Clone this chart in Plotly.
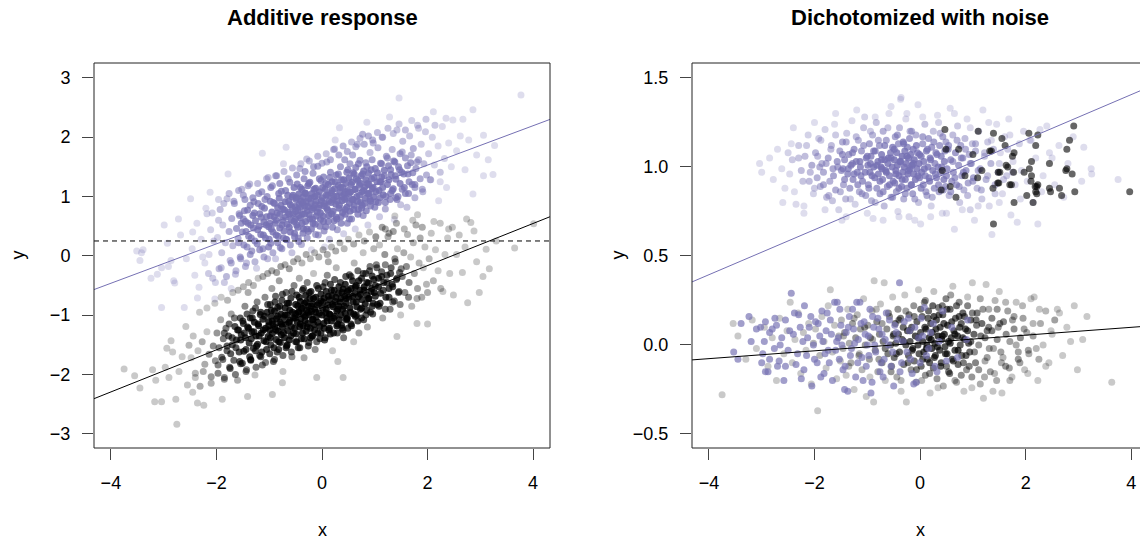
import numpy as np
import plotly.graph_objects as go

# ---------------- data ----------------
# Left panel: additive response, treated (purple) and control (black)
add_treated = [
    (-3.51, 0.08), (-3.39, 0.10), (-3.45, -0.08), (-3.24, -0.38), (-3.04, -0.87), (-3.04, -0.20),
    (-2.91, -0.18), (-2.99, 0.52), (-3.42, 0.05), (-3.12, -0.31),
    (-2.93, 0.21), (-2.81, -0.42), (-2.68, 0.35), (-2.57, -0.05), (-2.72, 0.62), (-2.86, -0.08),
    (-2.61, -0.87), (-2.79, -0.46), (-2.49, 0.96),
    (-2.46, 0.12), (-2.41, -0.33), (-2.37, 0.55), (-2.33, -0.53), (-2.36, -0.71), (-2.29, 0.28),
    (-2.22, -0.12), (-2.18, 0.71), (-2.14, 0.02), (-2.11, 0.44), (-2.07, -0.38), (-2.03, -0.73),
    (-2.12, 1.07), (-2.05, 0.25), (-2.45, 0.40), (-2.26, -0.02),
    (-1.98, 0.31), (-1.95, -0.22), (-1.93, 0.78), (-1.90, 0.05), (-1.88, 0.52), (-1.85, -0.45),
    (-1.83, 0.22), (-1.80, 0.96), (-1.78, 1.38), (-1.76, 0.41), (-1.74, -0.08), (-1.71, 0.63),
    (-1.69, 0.17), (-1.66, 0.88), (-1.64, -0.31), (-1.62, 0.46), (-1.59, 0.29), (-1.57, 0.71),
    (-1.55, -0.02), (-1.53, 0.55), (-1.52, 1.12), (-1.96, 0.60), (-1.72, -0.55),
    (-1.49, 0.62), (-1.48, 0.18), (-1.46, 0.95), (-1.44, 0.41), (-1.43, -0.12), (-1.41, 0.77),
    (-1.39, 0.33), (-1.37, 1.21), (-1.35, 0.52), (-1.33, 0.08), (-1.31, 0.68), (-1.29, 0.91),
    (-1.27, 0.25), (-1.26, 0.59), (-1.24, -0.21), (-1.22, 0.44), (-1.20, 1.05), (-1.18, 0.71),
    (-1.16, 0.36), (-1.14, 0.83), (-1.13, 1.73), (-1.12, 0.12), (-1.10, 0.57), (-1.08, 0.95),
    (-1.07, 0.30), (-1.05, 0.66), (-1.03, -0.05), (-1.02, 1.32), (-1.01, 0.49), (-1.45, 0.58),
    (-0.99, 0.55), (-0.98, 0.92), (-0.97, 0.21), (-0.95, 0.74), (-0.94, 1.18), (-0.93, 0.40),
    (-0.91, 0.66), (-0.90, 0.88), (-0.88, -0.05), (-0.87, 0.60), (-0.86, 1.35), (-0.84, 0.81),
    (-0.83, 0.33), (-0.81, 0.97), (-0.80, 0.70), (-0.79, 0.14), (-0.77, 1.09), (-0.76, 0.52),
    (-0.74, 0.79), (-0.73, 1.55), (-0.72, 0.42), (-0.70, 0.91), (-0.69, 0.65), (-0.68, 1.83),
    (-0.67, 0.27), (-0.65, 1.02), (-0.64, 0.73), (-0.62, 0.48), (-0.61, 1.24), (-0.60, 0.86),
    (-0.58, 0.60), (-0.57, 0.05), (-0.56, 0.99), (-0.55, 0.71), (-0.53, 1.15), (-0.52, 0.38),
    (-0.51, 0.83), (-0.50, 0.62),
    (-0.49, 0.95), (-0.48, 0.52), (-0.47, 1.21), (-0.46, 0.78), (-0.45, 0.30), (-0.44, 1.04),
    (-0.43, 0.87), (-0.42, 1.47), (-0.41, 0.64), (-0.40, 0.93), (-0.39, 0.19), (-0.38, 1.12),
    (-0.37, 0.71), (-0.36, 0.99), (-0.35, 0.45), (-0.34, 1.30), (-0.33, 0.84), (-0.32, 1.06),
    (-0.31, 0.58), (-0.30, 0.91), (-0.29, 1.63), (-0.28, 0.76), (-0.27, 1.18), (-0.26, 0.41),
    (-0.25, 0.97), (-0.24, 0.69), (-0.23, 1.24), (-0.21, 0.88), (-0.20, 0.10), (-0.19, 1.05),
    (-0.18, 0.62), (-0.17, 1.39), (-0.16, 0.81), (-0.14, 1.00), (-0.13, 0.53), (-0.12, 1.14),
    (-0.11, 0.92), (-0.09, 0.74), (-0.08, 1.51), (-0.07, 0.35), (-0.05, 1.08), (-0.04, 0.86),
    (-0.03, 0.61), (-0.02, 1.27),
    (0.01, 0.98), (0.02, 0.67), (0.03, 1.33), (0.04, 0.84), (0.06, 1.12), (0.07, 0.49),
    (0.08, 1.02), (0.09, 1.58), (0.11, 0.77), (0.12, 1.20), (0.13, 0.92), (0.14, 0.28),
    (0.16, 1.41), (0.17, 1.06), (0.18, 0.71), (0.19, 1.25), (0.21, 0.95), (0.22, 1.79),
    (0.23, 0.59), (0.24, 1.13), (0.26, 0.87), (0.27, 1.36), (0.28, 1.01), (0.29, 0.44),
    (0.31, 1.19), (0.32, 0.80), (0.33, 2.16), (0.34, 1.07), (0.35, 1.50), (0.36, 0.66),
    (0.37, 1.28), (0.38, 0.93), (0.39, 1.15), (0.41, 0.37), (0.42, 1.04), (0.43, 1.62),
    (0.44, 0.78), (0.45, 1.22), (0.46, 0.97), (0.47, 1.41), (0.48, 0.55), (0.49, 1.10),
    (0.05, 0.15), (0.25, 1.95),
    (0.51, 1.31), (0.52, 0.88), (0.53, 1.55), (0.54, 1.07), (0.56, 0.62), (0.57, 1.24),
    (0.58, 1.70), (0.59, 0.95), (0.61, 1.38), (0.62, 1.12), (0.63, 0.45), (0.64, 1.49),
    (0.66, 1.00), (0.67, 1.88), (0.68, 1.27), (0.69, 0.78), (0.71, 1.19), (0.72, 1.61),
    (0.73, 0.90), (0.74, 1.35), (0.76, 1.08), (0.77, 2.05), (0.78, 0.68), (0.79, 1.43),
    (0.81, 1.16), (0.82, 0.97), (0.83, 1.57), (0.85, 2.25), (0.86, 1.22), (0.87, 0.52),
    (0.88, 1.39), (0.89, 1.05), (0.91, 1.74), (0.92, 0.84), (0.94, 1.30), (0.95, 1.13),
    (0.97, 1.90), (0.98, 0.99),
    (1.01, 1.47), (1.02, 0.91), (1.04, 1.25), (1.06, 1.82), (1.08, 1.10), (1.09, 0.66),
    (1.11, 1.56), (1.13, 1.33), (1.14, 2.00), (1.16, 1.03), (1.18, 1.44), (1.20, 0.79),
    (1.22, 1.68), (1.24, 1.20), (1.26, 1.52), (1.28, 2.34), (1.29, 0.95), (1.31, 1.37),
    (1.33, 1.79), (1.35, 1.13), (1.37, 0.61), (1.38, 1.58), (1.40, 1.29), (1.42, 2.12),
    (1.44, 1.00), (1.46, 2.66), (1.47, 1.45), (1.48, 1.72), (1.49, 0.86), (1.12, 1.25),
    (1.51, 1.41), (1.53, 1.93), (1.56, 1.15), (1.58, 1.65), (1.61, 0.82), (1.63, 1.38),
    (1.66, 2.02), (1.68, 1.57), (1.71, 1.20), (1.73, 1.81), (1.76, 0.98), (1.78, 1.47),
    (1.81, 2.20), (1.83, 1.62), (1.86, 1.30), (1.88, 1.88), (1.91, 1.08), (1.93, 1.55),
    (1.96, 2.09), (1.98, 1.36),
    (2.02, 1.72), (2.06, 1.28), (2.09, 2.00), (2.11, 2.43), (2.13, 1.53), (2.21, 0.93),
    (2.20, 1.85), (2.24, 1.41), (2.28, 2.18), (2.32, 1.64), (2.36, 1.15), (2.40, 1.90),
    (2.45, 1.50), (2.48, 2.29),
    (2.55, 1.77), (2.62, 2.02), (2.67, 2.30), (2.71, 1.45), (2.78, 1.95), (2.86, 2.46),
    (2.86, 1.04), (2.93, 1.70),
    (3.06, 2.03), (3.06, 1.35), (3.27, 1.86), (3.24, 1.37), (3.15, 1.62), (3.77, 2.71),
]
add_treated_core = [
    (-1.58, 0.22), (-1.56, 0.68), (-1.51, 0.40), (-1.47, 0.76), (-1.42, 0.15), (-1.40, 0.55),
    (-1.36, 0.85), (-1.34, 0.30), (-1.30, 0.47), (-1.28, 0.72), (-1.23, 0.20), (-1.21, 0.88),
    (-1.19, 0.50), (-1.15, 0.65), (-1.11, 0.35), (-1.09, 0.80), (-1.06, 0.52), (-1.04, 1.00),
    (-1.00, 0.28), (-0.98, 0.67), (-0.96, 0.45), (-0.92, 0.90), (-0.89, 0.55), (-0.87, 0.35),
    (-0.85, 0.72), (-0.82, 1.05), (-0.80, 0.47), (-0.78, 0.85), (-0.75, 0.60), (-0.73, 0.30),
    (-0.71, 0.77), (-0.69, 1.10), (-0.66, 0.53), (-0.63, 0.92), (-0.62, 0.70), (-0.60, 0.40),
    (-0.57, 0.82), (-0.55, 1.02), (-0.53, 0.58), (-0.50, 0.75), (-0.48, 0.98), (-0.46, 0.48),
    (-0.44, 0.68), (-0.41, 1.15), (-0.40, 0.82), (-0.38, 0.55), (-0.36, 0.90), (-0.33, 0.70),
    (-0.31, 1.05), (-0.29, 0.45), (-0.27, 0.83), (-0.25, 1.22), (-0.23, 0.62), (-0.21, 0.97),
    (-0.19, 0.78), (-0.17, 0.55), (-0.15, 1.12), (-0.13, 0.86), (-0.11, 0.67), (-0.09, 1.02),
    (-0.07, 0.80), (-0.05, 1.30), (-0.03, 0.72), (-0.01, 0.93), (0.01, 1.15), (0.03, 0.58),
    (0.05, 0.88), (0.07, 1.22), (0.09, 0.80), (0.11, 1.02), (0.13, 0.68), (0.15, 1.32),
    (0.17, 0.90), (0.19, 1.10), (0.21, 0.75), (0.23, 1.00), (0.25, 1.25), (0.27, 0.65),
    (0.29, 0.92), (0.31, 1.38), (0.33, 0.85), (0.35, 1.15), (0.37, 1.00), (0.39, 0.73),
    (0.41, 1.28), (0.43, 0.95), (0.45, 1.08), (0.47, 0.82), (0.49, 1.45), (0.51, 1.05),
    (0.53, 0.75), (0.55, 1.20), (0.57, 0.95), (0.59, 1.40), (0.61, 0.85), (0.63, 1.12),
    (0.65, 1.30), (0.67, 0.92), (0.69, 1.55), (0.71, 1.02), (0.73, 1.22), (0.75, 0.80),
    (0.77, 1.38), (0.79, 1.10), (0.81, 0.88), (0.83, 1.28), (0.85, 1.50), (0.87, 1.05),
    (0.89, 1.20), (0.91, 0.95), (0.93, 1.45), (0.95, 1.62), (0.97, 1.15), (0.99, 1.32),
    (1.02, 1.08), (1.05, 1.40), (1.07, 0.90), (1.10, 1.25), (1.13, 1.55), (1.15, 1.15),
    (1.18, 1.35), (1.21, 1.00), (1.24, 1.65), (1.27, 1.28), (1.30, 1.45), (1.33, 1.10),
    (1.36, 1.60), (1.39, 1.35), (1.42, 0.95), (1.45, 1.50), (1.48, 1.22), (1.52, 1.75),
    (1.55, 1.38), (1.58, 1.05), (1.62, 1.52), (1.65, 1.25), (1.69, 1.70), (1.72, 1.40),
    (1.76, 1.15), (1.80, 1.58),
]
add_treated_mid = [
    (-2.20, 0.80), (-2.15, -0.30), (-2.08, 0.72), (-2.02, -0.45), (-1.96, 0.95), (-1.91, -0.20),
    (-1.86, 0.88), (-1.81, -0.35), (-1.76, 1.05), (-1.72, -0.12), (-1.67, 0.92), (-1.63, -0.25),
    (-1.58, 1.10), (-1.54, -0.05), (-1.49, 1.02), (-1.45, -0.18), (-1.40, 1.18), (-1.36, 0.02),
    (-1.31, 0.98), (-1.27, -0.10), (-1.22, 1.22), (-1.18, 0.10), (-1.14, 1.08), (-1.10, -0.02),
    (-1.05, 1.30), (-1.01, 0.15), (-0.97, 1.15), (-0.93, 0.05), (-0.88, 1.35), (-0.84, 0.22),
    (-0.80, 1.22), (-0.76, 0.12), (-0.72, 1.42), (-0.68, 0.28), (-0.64, 1.30), (-0.60, 0.18),
    (-0.56, 1.48), (-0.52, 0.32), (-0.48, 1.36), (-0.44, 0.24), (-0.40, 1.55), (-0.36, 0.38),
    (-0.32, 1.42), (-0.28, 0.30), (-0.24, 1.60), (-0.20, 0.45), (-0.16, 1.50), (-0.12, 0.36),
    (-0.08, 1.68), (-0.04, 0.50), (0.00, 1.56), (0.04, 0.42), (0.08, 1.72), (0.12, 0.58),
    (0.16, 1.62), (0.20, 0.48), (0.24, 1.80), (0.28, 0.62), (0.32, 1.70), (0.36, 0.55),
    (0.40, 1.85), (0.44, 0.70), (0.48, 1.76), (0.52, 0.62), (0.56, 1.92), (0.60, 0.78),
    (0.64, 1.84), (0.68, 0.70), (0.72, 1.98), (0.76, 0.85), (0.80, 1.88), (0.84, 0.76),
    (0.88, 2.02), (0.92, 0.92), (0.96, 1.95), (1.00, 0.82), (1.05, 2.08), (1.10, 0.98),
    (1.15, 2.00), (1.20, 0.90), (1.25, 2.15), (1.30, 1.05), (1.35, 2.06), (1.40, 0.98),
    (1.46, 2.22), (1.52, 1.12), (1.58, 2.12), (1.64, 1.05), (1.70, 2.28), (1.76, 1.20),
    (1.83, 2.15), (1.90, 1.12), (1.97, 2.30), (2.05, 1.28), (2.14, 2.20), (2.24, 1.25),
    (2.35, 2.32),
]

add_control = [
    (-3.75, -1.91), (-3.55, -2.02), (-3.45, -2.23), (-3.17, -2.46), (-3.04, -2.46), (-3.21, -1.92),
    (-3.15, -2.10), (-2.86, -1.43), (-2.94, -1.56), (-2.58, -1.19), (-2.77, -2.42), (-2.75, -2.84),
    (-2.36, -2.48), (-2.24, -2.52), (-1.89, -2.42), (-1.41, -2.37), (-0.94, -2.34), (-0.75, -2.14),
    (-0.10, -2.05), (0.40, -2.05), (1.42, -1.36), (2.00, -1.15), (1.80, -1.14), (2.76, -0.79),
    (2.98, -0.62), (3.17, -0.22), (3.65, 0.13), (4.01, 0.54), (2.74, 0.62), (2.82, 0.56),
    (1.81, 0.69), (1.38, 0.67), (3.11, 0.11), (2.49, -0.66),
    (-2.97, -1.88), (-2.90, -2.05), (-2.83, -1.62), (-2.71, -1.95), (-2.65, -1.70), (-2.55, -2.18),
    (-2.52, -1.51),
    (-2.48, -1.72), (-2.44, -1.35), (-2.40, -1.98), (-2.35, -1.60), (-2.31, -2.20), (-2.27, -1.45),
    (-2.22, -1.83), (-2.18, -1.28), (-2.14, -1.66), (-2.10, -2.04), (-2.06, -1.52), (-2.02, -1.77),
    (-2.45, -2.30),
    (-1.99, -1.30), (-1.97, -1.84), (-1.95, -1.55), (-1.92, -1.08), (-1.90, -1.71), (-1.87, -1.40),
    (-1.85, -2.05), (-1.82, -1.22), (-1.80, -1.60), (-1.77, -1.35), (-1.75, -1.88), (-1.72, -0.98),
    (-1.70, -1.50), (-1.67, -1.76), (-1.65, -1.19), (-1.62, -1.42), (-1.60, -2.10), (-1.57, -1.62),
    (-1.55, -1.05), (-1.53, -1.33), (-1.51, -1.81), (-1.58, -1.25),
    (-1.49, -1.14), (-1.48, -1.61), (-1.46, -0.85), (-1.45, -1.38), (-1.43, -1.92), (-1.41, -1.20),
    (-1.40, -0.62), (-1.38, -1.47), (-1.36, -1.05), (-1.35, -1.75), (-1.33, -1.28), (-1.31, -0.93),
    (-1.30, -1.56), (-1.28, -1.12), (-1.27, -2.01), (-1.25, -1.35), (-1.23, -0.78), (-1.22, -1.49),
    (-1.20, -1.18), (-1.18, -1.68), (-1.17, -0.99), (-1.15, -1.30), (-1.13, -1.84), (-1.12, -1.07),
    (-1.10, -1.43), (-1.08, -0.70), (-1.07, -1.22), (-1.05, -1.58), (-1.04, -0.95), (-1.02, -1.36),
    (-1.01, -1.11), (-1.26, -1.60),
    (-0.99, -1.25), (-0.98, -0.82), (-0.97, -1.50), (-0.96, -1.02), (-0.95, -0.55), (-0.94, -1.31),
    (-0.93, -1.15), (-0.92, -1.78), (-0.90, -0.93), (-0.89, -1.20), (-0.88, -0.68), (-0.87, -1.41),
    (-0.86, -1.06), (-0.85, -1.62), (-0.84, -0.87), (-0.83, -1.27), (-0.81, -0.42), (-0.80, -1.12),
    (-0.79, -1.46), (-0.78, -0.98), (-0.77, -1.33), (-0.76, -0.75), (-0.75, -1.20), (-0.74, -1.95),
    (-0.73, -1.04), (-0.71, -1.38), (-0.70, -0.88), (-0.69, -1.15), (-0.68, -0.62), (-0.67, -1.52),
    (-0.66, -1.00), (-0.65, -1.26), (-0.63, -0.80), (-0.62, -1.42), (-0.61, -1.09), (-0.59, -0.71),
    (-0.58, -1.19), (-0.57, -1.70), (-0.56, -0.95), (-0.54, -1.30), (-0.53, -0.50), (-0.51, -1.05),
    (-0.50, -0.98), (-0.49, -1.32), (-0.48, -0.66), (-0.47, -1.12), (-0.46, -0.84), (-0.45, -1.55),
    (-0.44, -0.95), (-0.43, -0.38), (-0.42, -1.20), (-0.41, -0.77), (-0.40, -1.06), (-0.39, -1.40),
    (-0.38, -0.89), (-0.37, -0.58), (-0.36, -1.18), (-0.35, -0.99), (-0.34, -1.72), (-0.33, -0.80),
    (-0.32, -1.09), (-0.31, -0.67), (-0.30, -1.27), (-0.29, -0.92), (-0.28, -0.45), (-0.27, -1.14),
    (-0.26, -0.85), (-0.25, -1.46), (-0.24, -1.00), (-0.23, -0.72), (-0.22, -1.22), (-0.21, -0.60),
    (-0.20, -0.94), (-0.19, -1.35), (-0.18, -0.81), (-0.17, -1.07), (-0.16, -0.30), (-0.15, -1.16),
    (-0.14, -0.90), (-0.13, -1.58), (-0.12, -0.70), (-0.11, -1.03), (-0.09, -0.83), (-0.08, -1.30),
    (-0.07, -0.55), (-0.05, -0.97), (-0.04, -1.19), (-0.02, -0.76),
    (0.01, -0.88), (0.02, -0.52), (0.03, -1.14), (0.04, -0.71), (0.05, -1.42), (0.07, -0.96),
    (0.08, -0.60), (0.09, -1.05), (0.10, -0.33), (0.11, -0.83), (0.13, -1.25), (0.14, -0.74),
    (0.15, -0.99), (0.16, -0.48), (0.18, -1.10), (0.19, -0.67), (0.20, -1.60), (0.21, -0.86),
    (0.23, -0.58), (0.24, -1.02), (0.25, -0.77), (0.27, -0.20), (0.28, -0.93), (0.29, -1.30),
    (0.31, -0.63), (0.32, -0.85), (0.33, -1.08), (0.35, -0.45), (0.36, -0.72), (0.37, -1.17),
    (0.39, -0.90), (0.40, -0.56), (0.41, -1.38), (0.43, -0.68), (0.44, -0.97), (0.45, -0.35),
    (0.46, -0.80), (0.47, -1.06), (0.48, -0.60), (0.49, -1.22), (0.12, -0.10), (0.30, -1.78),
    (0.51, -0.70), (0.52, -0.32), (0.54, -0.95), (0.55, -0.55), (0.56, -1.18), (0.58, -0.42),
    (0.59, -0.78), (0.61, -0.12), (0.62, -0.63), (0.63, -1.02), (0.65, -0.50), (0.66, -0.86),
    (0.68, -0.25), (0.69, -0.69), (0.70, -1.30), (0.72, -0.58), (0.73, -0.90), (0.75, -0.38),
    (0.76, -0.74), (0.78, 0.05), (0.79, -1.08), (0.80, -0.52), (0.82, -0.81), (0.83, -0.30),
    (0.85, -0.66), (0.86, -1.20), (0.88, -0.46), (0.89, -0.72), (0.91, -0.18), (0.92, -0.95),
    (0.94, -0.55), (0.95, -0.34), (0.97, -0.80), (0.98, 0.12), (0.99, -0.62), (0.60, -1.45),
    (1.01, -0.50), (1.03, -0.15), (1.05, -0.82), (1.07, -0.38), (1.09, 0.18), (1.11, -0.63),
    (1.13, -0.27), (1.15, -1.05), (1.17, -0.45), (1.19, 0.02), (1.21, -0.70), (1.23, -0.33),
    (1.25, 0.32), (1.27, -0.55), (1.29, -0.90), (1.31, -0.20), (1.33, -0.48), (1.35, 0.41),
    (1.37, -0.76), (1.39, -0.10), (1.41, -0.40), (1.43, 0.12), (1.45, -0.62), (1.47, -0.28),
    (1.49, -1.00), (1.20, 0.45),
    (1.52, -0.35), (1.55, 0.05), (1.57, -0.62), (1.60, -0.18), (1.62, 0.36), (1.65, -0.45),
    (1.68, -0.02), (1.70, -0.85), (1.73, 0.22), (1.75, -0.30), (1.78, 0.52), (1.81, -0.55),
    (1.84, -0.12), (1.86, 0.30), (1.89, -0.70), (1.92, -0.20), (1.95, 0.15), (1.98, -0.48),
    (2.03, -0.05), (2.07, 0.38), (2.11, -0.42), (2.15, 0.10), (2.20, -0.25), (2.24, 0.55),
    (2.29, -0.60), (2.33, 0.02), (2.38, 0.30), (2.42, -0.30), (2.47, 0.48),
    (2.55, 0.02), (2.60, 0.35), (2.66, -0.28), (2.71, 0.15), (2.88, 0.42), (2.93, -0.10),
    (3.30, 0.25), (3.05, -0.35),
]
add_control_core = [
    (-1.88, -1.75), (-1.85, -1.30), (-1.80, -1.52), (-1.76, -1.15), (-1.73, -1.65), (-1.70, -1.38),
    (-1.66, -1.05), (-1.63, -1.55), (-1.60, -1.25), (-1.56, -1.78), (-1.54, -1.42), (-1.50, -1.10),
    (-1.47, -1.30), (-1.44, -1.58), (-1.42, -0.98), (-1.39, -1.22), (-1.37, -1.70), (-1.34, -1.40),
    (-1.32, -1.05), (-1.29, -1.28), (-1.26, -0.88), (-1.24, -1.52), (-1.21, -1.15), (-1.19, -1.35),
    (-1.16, -0.95), (-1.14, -1.62), (-1.11, -1.25), (-1.09, -1.02), (-1.06, -1.45), (-1.03, -0.82),
    (-1.01, -1.18), (-0.98, -1.38), (-0.96, -0.92), (-0.94, -1.10), (-0.91, -1.55), (-0.89, -0.78),
    (-0.87, -1.25), (-0.84, -1.02), (-0.82, -1.45), (-0.80, -0.85), (-0.77, -1.15), (-0.75, -0.65),
    (-0.73, -1.30), (-0.70, -1.00), (-0.68, -1.55), (-0.66, -0.80), (-0.63, -1.12), (-0.61, -0.92),
    (-0.59, -1.35), (-0.57, -0.60), (-0.54, -1.05), (-0.52, -1.22), (-0.50, -0.82), (-0.48, -1.45),
    (-0.45, -0.95), (-0.43, -0.70), (-0.41, -1.15), (-0.39, -0.88), (-0.37, -1.30), (-0.35, -0.55),
    (-0.32, -1.02), (-0.30, -0.78), (-0.28, -1.20), (-0.26, -0.95), (-0.24, -0.62), (-0.22, -1.38),
    (-0.20, -0.85), (-0.18, -1.08), (-0.16, -0.72), (-0.14, -1.25), (-0.12, -0.95), (-0.10, -0.50),
    (-0.08, -1.12), (-0.06, -0.80), (-0.04, -1.40), (-0.02, -0.65), (0.00, -1.00), (0.02, -0.78),
    (0.04, -1.22), (0.06, -0.45), (0.08, -0.90), (0.10, -1.10), (0.12, -0.68), (0.14, -0.98),
    (0.16, -1.32), (0.18, -0.58), (0.20, -0.82), (0.22, -1.05), (0.24, -0.40), (0.26, -0.70),
    (0.28, -1.18), (0.30, -0.90), (0.32, -0.52), (0.34, -0.78), (0.36, -1.00), (0.38, -0.62),
    (0.40, -1.25), (0.42, -0.85), (0.44, -0.48), (0.46, -0.72), (0.48, -1.05), (0.50, -0.58),
    (0.53, -0.88), (0.55, -0.35), (0.58, -0.68), (0.60, -0.98), (0.63, -0.52), (0.65, -0.78),
    (0.68, -1.10), (0.70, -0.42), (0.73, -0.65), (0.75, -0.88), (0.78, -0.30), (0.80, -0.58),
    (0.83, -1.00), (0.85, -0.45), (0.88, -0.72), (0.90, -0.25), (0.93, -0.60), (0.95, -0.85),
    (0.98, -0.40), (1.01, -0.68), (1.04, -0.20), (1.07, -0.52), (1.10, -0.80), (1.13, -0.35),
    (1.16, -0.58), (1.20, -0.15), (1.23, -0.45), (1.27, -0.70), (1.30, -0.30), (1.34, -0.52),
    (1.38, -0.05), (1.42, -0.38), (1.46, -0.60), (1.50, -0.22),
]
add_control_mid = [
    (-2.40, -2.05), (-2.32, -0.95), (-2.25, -1.95), (-2.18, -0.88), (-2.10, -2.15), (-2.03, -0.80),
    (-1.97, -1.98), (-1.91, -0.70), (-1.85, -2.08), (-1.79, -0.75), (-1.74, -1.90), (-1.69, -0.62),
    (-1.64, -2.00), (-1.59, -0.58), (-1.54, -1.82), (-1.49, -0.52), (-1.44, -1.95), (-1.39, -0.45),
    (-1.35, -1.76), (-1.30, -0.50), (-1.25, -1.88), (-1.21, -0.38), (-1.16, -1.70), (-1.12, -0.35),
    (-1.07, -1.80), (-1.03, -0.30), (-0.99, -1.65), (-0.95, -0.25), (-0.90, -1.75), (-0.86, -0.28),
    (-0.82, -1.58), (-0.78, -0.18), (-0.74, -1.68), (-0.70, -0.15), (-0.66, -1.50), (-0.62, -0.22),
    (-0.58, -1.62), (-0.54, -0.10), (-0.50, -1.45), (-0.46, -0.05), (-0.42, -1.55), (-0.38, -0.12),
    (-0.34, -1.40), (-0.30, 0.02), (-0.26, -1.52), (-0.22, -0.05), (-0.18, -1.35), (-0.14, 0.05),
    (-0.10, -1.45), (-0.06, -0.02), (-0.02, -1.30), (0.02, 0.10), (0.06, -1.38), (0.10, 0.02),
    (0.14, -1.22), (0.18, 0.15), (0.22, -1.30), (0.26, 0.08), (0.30, -1.15), (0.34, 0.22),
    (0.38, -1.22), (0.42, 0.12), (0.46, -1.08), (0.50, 0.28), (0.55, -1.15), (0.60, 0.20),
    (0.65, -1.00), (0.70, 0.35), (0.75, -1.05), (0.80, 0.25), (0.85, -0.92), (0.90, 0.40),
    (0.96, -0.98), (1.02, 0.32), (1.08, -0.85), (1.14, 0.48), (1.20, -0.90), (1.27, 0.38),
    (1.34, -0.78), (1.41, 0.55), (1.48, -0.82), (1.56, 0.45), (1.64, -0.70), (1.72, 0.60),
    (1.80, -0.72), (1.90, 0.48), (2.00, -0.62), (2.12, 0.58), (2.25, -0.55), (2.40, 0.45),
]

# Right panel: dichotomized with noise
dich_treated_high = [
    (-3.04, 1.02), (-3.00, 0.97), (-2.85, 1.05), (-2.78, 0.93), (-2.70, 1.10), (-2.62, 0.99),
    (-2.56, 0.88), (-2.50, 1.08),
    (-2.47, 0.96), (-2.42, 1.04), (-2.38, 0.86), (-2.35, 0.79), (-2.30, 1.12), (-2.25, 0.98),
    (-2.20, 0.78), (-2.18, 1.06), (-2.12, 1.18), (-2.10, 0.92), (-2.05, 1.01), (-2.02, 0.85),
    (-2.44, 1.13),
    (-1.98, 1.08), (-1.95, 0.94), (-1.92, 1.16), (-1.89, 0.89), (-1.86, 1.02), (-1.83, 0.97),
    (-1.80, 1.21), (-1.77, 0.83), (-1.74, 1.05), (-1.71, 0.92), (-1.68, 1.12), (-1.65, 0.99),
    (-1.62, 1.24), (-1.60, 0.87), (-1.57, 1.03), (-1.54, 0.76), (-1.52, 1.09), (-1.48, 0.70),
    (-1.90, 1.00), (-1.66, 0.81),
    (-1.49, 0.98), (-1.47, 1.14), (-1.45, 0.90), (-1.43, 1.04), (-1.41, 0.82), (-1.39, 1.19),
    (-1.37, 0.96), (-1.35, 1.07), (-1.33, 0.88), (-1.31, 1.01), (-1.29, 1.26), (-1.27, 0.93),
    (-1.25, 1.10), (-1.23, 0.79), (-1.21, 1.03), (-1.19, 0.97), (-1.17, 1.15), (-1.15, 0.86),
    (-1.13, 1.00), (-1.11, 1.09), (-1.09, 0.92), (-1.07, 1.22), (-1.05, 1.28), (-1.03, 0.84),
    (-1.02, 1.05), (-1.46, 0.99), (-1.28, 1.02), (-1.12, 0.95),
    (-0.99, 1.01), (-0.98, 0.90), (-0.96, 1.13), (-0.95, 0.97), (-0.93, 1.06), (-0.92, 0.81),
    (-0.90, 1.18), (-0.89, 0.71), (-0.88, 1.00), (-0.86, 0.94), (-0.85, 1.09), (-0.83, 1.25),
    (-0.82, 0.88), (-0.80, 1.03), (-0.79, 0.96), (-0.77, 1.12), (-0.76, 0.85), (-0.74, 1.00),
    (-0.73, 1.07), (-0.71, 0.93), (-0.70, 1.20), (-0.68, 0.78), (-0.67, 1.04), (-0.65, 0.98),
    (-0.64, 1.15), (-0.62, 0.89), (-0.61, 1.02), (-0.59, 1.30), (-0.58, 0.95), (-0.56, 1.08),
    (-0.55, 0.83), (-0.53, 1.00), (-0.52, 1.11), (-0.51, 0.92), (-0.94, 1.02), (-0.72, 0.99),
    (-0.60, 1.05),
    (-0.49, 1.04), (-0.48, 0.91), (-0.47, 1.17), (-0.46, 0.98), (-0.45, 0.86), (-0.44, 1.08),
    (-0.43, 1.01), (-0.42, 0.75), (-0.41, 1.13), (-0.40, 0.95), (-0.39, 1.22), (-0.38, 1.03),
    (-0.37, 1.38), (-0.36, 1.39), (-0.35, 0.89), (-0.34, 1.06), (-0.33, 0.97), (-0.32, 1.14),
    (-0.31, 0.82), (-0.30, 1.00), (-0.29, 1.09), (-0.28, 0.93), (-0.27, 1.27), (-0.26, 1.02),
    (-0.25, 0.88), (-0.24, 1.11), (-0.23, 0.96), (-0.22, 1.05), (-0.21, 0.72), (-0.20, 1.16),
    (-0.19, 0.99), (-0.18, 1.07), (-0.17, 0.90), (-0.16, 1.20), (-0.15, 1.01), (-0.14, 0.85),
    (-0.13, 1.10), (-0.12, 0.96), (-0.11, 1.04), (-0.09, 0.93), (-0.08, 1.18), (-0.06, 0.99),
    (-0.05, 1.08), (-0.04, 1.35), (-0.03, 0.80), (-0.02, 1.02), (-0.01, 0.94),
    (0.01, 0.68), (0.02, 1.06), (0.03, 0.97), (0.05, 1.13), (0.06, 0.90), (0.07, 1.03),
    (0.09, 1.24), (0.10, 0.95), (0.12, 1.09), (0.13, 0.84), (0.15, 1.00), (0.16, 1.16),
    (0.18, 0.92), (0.19, 1.05), (0.21, 0.78), (0.22, 1.11), (0.24, 0.98), (0.25, 1.20),
    (0.27, 0.88), (0.28, 1.02), (0.30, 1.08), (0.31, 0.94), (0.33, 1.29), (0.34, 1.00),
    (0.36, 0.86), (0.37, 1.12), (0.39, 0.97), (0.40, 1.06), (0.42, 0.74), (0.43, 1.17),
    (0.45, 0.93), (0.46, 1.03), (0.48, 0.89), (0.49, 1.14),
    (0.51, 0.99), (0.53, 1.10), (0.55, 0.84), (0.57, 1.33), (0.58, 1.04), (0.60, 0.92),
    (0.62, 1.18), (0.63, 0.97), (0.65, 0.65), (0.67, 1.08), (0.69, 0.90), (0.71, 1.23),
    (0.73, 1.01), (0.75, 0.80), (0.77, 1.12), (0.79, 0.95), (0.81, 1.05), (0.83, 0.87),
    (0.85, 1.16), (0.87, 0.98), (0.89, 1.27), (0.91, 0.91), (0.93, 1.07), (0.95, 0.76),
    (0.97, 1.02), (0.99, 1.13),
    (1.01, 0.94), (1.03, 0.70), (1.05, 1.09), (1.08, 0.88), (1.11, 1.20), (1.14, 0.99),
    (1.17, 0.82), (1.19, 1.32), (1.22, 1.06), (1.25, 0.93), (1.28, 1.14), (1.31, 0.78),
    (1.34, 1.02), (1.36, 0.62), (1.39, 1.10), (1.42, 0.90), (1.45, 1.24), (1.48, 0.97),
    (1.52, 1.08), (1.56, 0.85), (1.60, 1.17), (1.64, 0.95), (1.68, 1.27), (1.72, 0.73),
    (1.76, 1.03), (1.80, 0.90), (1.84, 0.69), (1.88, 1.13), (1.92, 0.98), (1.96, 1.20),
    (2.03, 0.92), (2.08, 1.15), (2.14, 0.80), (2.19, 1.05), (2.23, 0.68), (2.27, 1.21),
    (2.33, 0.95), (2.40, 1.23), (2.45, 1.08),
    (2.55, 0.90), (2.63, 1.12), (2.72, 0.83), (2.80, 1.02), (2.90, 1.17),
    (3.06, 0.92), (3.10, 1.11), (3.24, 0.99), (3.25, 0.96), (3.75, 0.93),
]
dich_treated_high_core = [
    (-2.30, 1.05), (-2.22, 0.92), (-2.15, 1.12), (-2.08, 0.97), (-2.00, 0.88), (-1.94, 1.06),
    (-1.88, 1.15), (-1.83, 0.90), (-1.78, 1.02), (-1.73, 0.84), (-1.69, 1.10), (-1.64, 0.95),
    (-1.60, 1.18), (-1.56, 1.00), (-1.51, 0.86), (-1.47, 1.07), (-1.43, 0.93), (-1.40, 1.14),
    (-1.36, 0.99), (-1.32, 0.82), (-1.28, 1.08), (-1.25, 0.96), (-1.21, 1.17), (-1.18, 0.90),
    (-1.14, 1.03), (-1.10, 0.85), (-1.07, 1.12), (-1.04, 0.97), (-1.00, 1.06), (-0.97, 0.88),
    (-0.94, 1.20), (-0.91, 0.95), (-0.88, 1.09), (-0.85, 0.80), (-0.82, 1.01), (-0.79, 1.15),
    (-0.76, 0.92), (-0.73, 1.04), (-0.70, 0.86), (-0.67, 1.12), (-0.64, 0.97), (-0.61, 1.22),
    (-0.58, 0.90), (-0.55, 1.05), (-0.52, 0.83), (-0.49, 1.10), (-0.46, 0.96), (-0.43, 1.18),
    (-0.40, 0.88), (-0.37, 1.03), (-0.34, 0.93), (-0.31, 1.13), (-0.28, 0.85), (-0.25, 1.06),
    (-0.22, 0.98), (-0.19, 1.20), (-0.16, 0.90), (-0.13, 1.02), (-0.10, 0.82), (-0.07, 1.12),
    (-0.04, 0.95), (-0.01, 1.07), (0.02, 0.88), (0.05, 1.17), (0.08, 0.99), (0.11, 0.86),
    (0.14, 1.10), (0.17, 0.94), (0.20, 1.04), (0.23, 0.83), (0.26, 1.14), (0.29, 0.96),
    (0.32, 1.07), (0.35, 0.90), (0.38, 1.19), (0.41, 1.00), (0.44, 0.87), (0.47, 1.09),
    (0.50, 0.95), (0.54, 1.12), (0.58, 0.86), (0.62, 1.03), (0.66, 0.94), (0.70, 1.15),
    (0.74, 0.89), (0.78, 1.05), (0.82, 0.97), (0.86, 1.10), (0.90, 0.84), (0.95, 1.02),
    (1.00, 0.92), (1.05, 1.13), (1.10, 0.98), (1.16, 0.87), (1.22, 1.08), (1.28, 0.95),
    (1.35, 1.15), (1.42, 0.85), (1.50, 1.02), (1.58, 0.93), (1.66, 1.10), (1.75, 0.97),
    (-2.60, 0.80), (-2.40, 1.22), (-2.20, 0.74), (-2.00, 1.25), (-1.80, 0.76), (-1.60, 1.30),
    (-1.40, 0.72), (-1.20, 1.32), (-1.00, 0.74), (-0.85, 1.28), (-0.70, 0.70), (-0.55, 1.34),
    (-0.40, 0.72), (-0.25, 1.30), (-0.10, 0.70), (0.05, 1.28), (0.20, 0.72), (0.35, 1.25),
    (0.50, 0.74), (0.65, 1.30), (0.80, 0.76), (0.95, 1.22), (1.10, 0.78), (1.30, 1.25),
    (1.50, 0.80), (1.70, 1.18), (1.90, 0.82), (2.10, 1.15), (2.30, 0.86), (2.50, 1.05),
]

dich_control_high = [
    (0.47, 1.21), (1.10, 1.20), (1.39, 1.19), (2.06, 1.19), (2.23, 1.18), (2.91, 1.23),
    (1.55, 1.16), (1.61, 1.12), (0.49, 1.10), (0.73, 1.10), (1.00, 1.07), (1.32, 1.09),
    (1.35, 1.09), (2.19, 1.12), (2.83, 1.15), (2.78, 1.10), (1.78, 1.08), (1.75, 1.06),
    (2.11, 1.03), (2.45, 1.02), (1.63, 1.01), (1.66, 1.00), (2.07, 0.99), (0.42, 0.98),
    (1.17, 0.98), (1.48, 0.97), (1.51, 0.97), (1.77, 0.97), (1.97, 0.97), (2.11, 0.95),
    (2.76, 0.98), (2.78, 0.99), (2.88, 0.96), (0.85, 0.95), (1.09, 0.94), (2.10, 0.92),
    (1.47, 0.91), (1.49, 0.91), (1.70, 0.90), (1.73, 0.90), (0.57, 0.89), (1.38, 0.88),
    (2.18, 0.89), (2.21, 0.89), (2.23, 0.90), (2.45, 0.88), (2.64, 0.88), (2.93, 0.86),
    (2.68, 0.84), (2.19, 0.86), (2.21, 0.85), (2.47, 0.86), (2.02, 0.84), (0.40, 0.87),
    (0.68, 0.83), (1.78, 0.80), (2.14, 0.80), (1.39, 0.68), (3.97, 0.86),
]

dich_control_low = [
    (-3.75, -0.28), (-3.54, 0.12), (-3.45, 0.05), (-3.30, -0.08), (-3.18, 0.14), (-3.10, -0.02),
    (-2.95, 0.10), (-2.88, -0.12), (-2.80, 0.04), (-2.72, -0.20), (-2.66, 0.15), (-2.58, -0.05),
    (-2.52, 0.08),
    (-2.46, 0.24), (-2.42, -0.10), (-2.37, 0.03), (-2.31, 0.18), (-2.26, -0.16), (-2.21, 0.07),
    (-2.16, -0.03), (-2.11, 0.12), (-2.06, -0.22), (-2.02, 0.01),
    (-1.98, 0.09), (-1.94, -0.37), (-1.90, -0.06), (-1.86, 0.16), (-1.82, 0.02), (-1.78, -0.13),
    (-1.74, 0.22), (-1.70, 0.31), (-1.66, -0.04), (-1.62, 0.11), (-1.58, -0.19), (-1.54, 0.05),
    (-1.51, -0.09),
    (-1.49, 0.14), (-1.46, -0.02), (-1.43, 0.07), (-1.40, -0.17), (-1.37, 0.20), (-1.34, 0.01),
    (-1.31, -0.10), (-1.28, 0.12), (-1.25, -0.25), (-1.22, 0.04), (-1.19, 0.17), (-1.16, -0.06),
    (-1.13, 0.09), (-1.10, -0.14), (-1.07, 0.26), (-1.04, 0.00), (-1.02, -0.29),
    (-0.99, 0.11), (-0.96, -0.08), (-0.94, 0.04), (-0.91, 0.19), (-0.88, -0.32), (-0.87, 0.36),
    (-0.85, -0.03), (-0.82, 0.13), (-0.80, -0.15), (-0.77, 0.06), (-0.75, 0.23), (-0.72, -0.10),
    (-0.70, 0.02), (-0.68, 0.35), (-0.66, -0.20), (-0.63, 0.09), (-0.61, -0.05), (-0.58, 0.16),
    (-0.56, 0.00), (-0.54, -0.12), (-0.52, 0.27), (-0.51, 0.05),
    (-0.49, -0.07), (-0.47, 0.12), (-0.46, 0.01), (-0.44, -0.18), (-0.42, 0.20), (-0.41, 0.06),
    (-0.39, -0.04), (-0.37, 0.15), (-0.36, -0.26), (-0.34, 0.03), (-0.32, 0.10), (-0.31, -0.11),
    (-0.29, 0.28), (-0.27, 0.00), (-0.26, -0.32), (-0.24, 0.08), (-0.22, -0.06), (-0.21, 0.17),
    (-0.19, 0.02), (-0.17, -0.14), (-0.16, 0.10), (-0.14, -0.02), (-0.12, 0.22), (-0.11, -0.09),
    (-0.09, 0.05), (-0.08, -0.21), (-0.06, 0.13), (-0.04, 0.00), (-0.03, 0.31), (-0.02, -0.05),
    (0.01, 0.07), (0.02, -0.12), (0.04, 0.16), (0.05, 0.02), (0.07, -0.04), (0.08, 0.24),
    (0.10, -0.17), (0.11, 0.09), (0.13, 0.00), (0.14, -0.08), (0.16, 0.19), (0.17, 0.04),
    (0.19, -0.27), (0.20, 0.12), (0.22, -0.02), (0.23, 0.07), (0.25, -0.13), (0.26, 0.30),
    (0.28, 0.01), (0.29, -0.06), (0.31, 0.14), (0.32, -0.19), (0.34, 0.05), (0.35, 0.21),
    (0.37, -0.03), (0.38, 0.10), (0.40, -0.10), (0.41, 0.03), (0.43, 0.17), (0.44, -0.23),
    (0.46, 0.06), (0.47, -0.01), (0.49, 0.26),
    (0.51, -0.05), (0.52, 0.11), (0.54, 0.02), (0.56, -0.16), (0.57, 0.20), (0.59, 0.04),
    (0.61, -0.08), (0.62, 0.33), (0.64, 0.08), (0.66, -0.03), (0.67, 0.15), (0.69, -0.21),
    (0.71, 0.05), (0.72, -0.11), (0.74, 0.24), (0.76, 0.00), (0.78, 0.12), (0.79, -0.06),
    (0.81, 0.18), (0.83, -0.26), (0.84, 0.03), (0.86, 0.09), (0.88, -0.14), (0.90, 0.27),
    (0.92, 0.01), (0.94, -0.04), (0.96, 0.14), (0.98, -0.18), (0.99, 0.35),
    (1.02, 0.06), (1.05, -0.10), (1.08, 0.18), (1.11, 0.00), (1.14, -0.22), (1.17, 0.12),
    (1.20, -0.30), (1.23, 0.04), (1.25, 0.34), (1.27, -0.07), (1.30, 0.20), (1.33, -0.15),
    (1.36, 0.08), (1.39, -0.02), (1.42, 0.25), (1.45, -0.20), (1.48, 0.10),
    (1.50, 0.30), (1.53, -0.04), (1.55, -0.27), (1.58, 0.13), (1.62, -0.12), (1.66, 0.19),
    (1.70, 0.02), (1.74, -0.18), (1.78, 0.09), (1.82, 0.24), (1.86, -0.08), (1.90, 0.04),
    (1.95, 0.15), (1.98, -0.14),
    (2.02, 0.07), (2.06, -0.05), (2.10, 0.26), (2.16, 0.27), (2.20, -0.02), (2.23, -0.20),
    (2.28, 0.12), (2.33, 0.00), (2.38, 0.19), (2.44, -0.10), (2.48, 0.08),
    (2.55, 0.14), (2.60, 0.20), (2.64, 0.18), (2.70, -0.06), (2.78, 0.10), (2.85, 0.02),
    (2.92, 0.22), (2.98, -0.14), (3.08, 0.03), (3.16, 0.16), (3.63, -0.21),
]
dich_control_low_core = [
    (-1.45, 0.05), (-1.35, -0.12), (-1.25, 0.15), (-1.15, -0.05), (-1.05, 0.10), (-0.95, -0.18),
    (-0.90, 0.03), (-0.83, 0.20), (-0.78, -0.08), (-0.72, 0.12), (-0.66, -0.02), (-0.60, 0.18),
    (-0.55, -0.15), (-0.50, 0.06), (-0.45, -0.05), (-0.40, 0.14), (-0.36, -0.20), (-0.31, 0.02),
    (-0.27, 0.19), (-0.23, -0.10), (-0.19, 0.08), (-0.15, -0.03), (-0.11, 0.16), (-0.07, -0.14),
    (-0.03, 0.04), (0.01, 0.20), (0.05, -0.08), (0.09, 0.10), (0.12, -0.02), (0.15, 0.15),
    (0.18, -0.16), (0.21, 0.03), (0.24, 0.22), (0.27, -0.07), (0.30, 0.09), (0.33, -0.01),
    (0.36, 0.17), (0.39, -0.12), (0.42, 0.05), (0.45, 0.12), (0.48, -0.05), (0.51, 0.20),
    (0.54, -0.15), (0.57, 0.01), (0.60, 0.13), (0.63, -0.09), (0.66, 0.06), (0.69, 0.22),
    (0.72, -0.03), (0.75, 0.10), (0.78, -0.17), (0.81, 0.04), (0.84, 0.16), (0.87, -0.06),
    (0.90, 0.08), (0.93, -0.12), (0.96, 0.02), (0.99, 0.18), (1.03, -0.04), (1.07, 0.11),
    (1.11, -0.14), (1.15, 0.05), (1.19, 0.20), (1.23, -0.09), (1.27, 0.08), (1.31, -0.02),
    (1.36, 0.15), (1.41, -0.16), (1.46, 0.03), (1.51, 0.12), (1.57, -0.07), (1.63, 0.06),
    (1.69, -0.13), (1.75, 0.14), (1.82, 0.00), (1.89, -0.10), (1.97, 0.09), (2.05, -0.03),
    (2.14, 0.12), (2.25, -0.08),
    (0.03, -0.20), (0.10, 0.25), (0.18, -0.10), (0.26, 0.16), (0.34, -0.24), (0.42, 0.22),
    (0.50, -0.12), (0.58, 0.28), (0.66, -0.20), (0.74, 0.16), (0.82, -0.10), (0.90, 0.22),
    (0.98, -0.24), (1.06, 0.14), (1.14, 0.26), (1.22, -0.18), (1.30, 0.10), (1.38, -0.26),
    (1.46, 0.20), (1.54, -0.10), (1.62, 0.24), (1.70, -0.20), (1.78, 0.16), (1.86, -0.04),
    (1.94, 0.22), (2.04, -0.16), (2.14, 0.05), (2.26, 0.20), (2.38, -0.12), (2.50, 0.06),
]

dich_treated_low = [
    (-3.53, -0.04), (-3.45, -0.08), (-3.39, 0.12), (-3.24, 0.16), (-3.20, 0.02), (-3.10, 0.09),
    (-3.02, 0.10), (-2.98, -0.05), (-2.93, 0.13), (-2.93, -0.15), (-2.88, -0.15), (-2.85, 0.07),
    (-2.80, 0.09), (-2.76, -0.02), (-2.72, 0.11), (-2.67, -0.09), (-2.62, 0.04), (-2.58, -0.20),
    (-2.55, 0.14), (-2.50, -0.03), (-2.44, 0.29), (-2.40, 0.06), (-2.35, -0.11), (-2.30, 0.17),
    (-2.25, -0.19), (-2.22, 0.02), (-2.19, 0.22), (-2.15, -0.06), (-2.10, 0.10), (-2.05, -0.23),
    (-2.02, 0.00), (-1.98, 0.13), (-1.95, -0.10), (-1.90, 0.05), (-1.86, 0.19), (-1.82, -0.16),
    (-1.78, 0.08), (-1.74, -0.03), (-1.70, 0.14), (-1.66, -0.20), (-1.62, 0.24), (-1.58, 0.02),
    (-1.57, 0.24), (-1.53, -0.08), (-1.50, 0.11), (-1.46, -0.14), (-1.43, -0.25), (-1.40, 0.07),
    (-1.37, -0.26), (-1.34, 0.16), (-1.30, -0.02), (-1.26, 0.09), (-1.22, -0.18), (-1.20, 0.24),
    (-1.17, 0.03), (-1.14, 0.24), (-1.10, -0.07), (-1.06, 0.13), (-1.02, -0.12), (-0.98, 0.05),
    (-0.95, 0.20), (-0.93, -0.27), (-0.91, -0.21), (-0.88, 0.10), (-0.84, -0.04), (-0.80, 0.15),
    (-0.76, -0.15), (-0.72, 0.06), (-0.68, -0.08), (-0.64, 0.18), (-0.60, 0.00), (-0.55, -0.12),
    (-0.50, -0.23), (-0.48, 0.11), (-0.43, 0.03), (-0.39, 0.35), (-0.35, -0.10), (-0.30, 0.13),
    (-0.25, -0.04), (-0.20, 0.08), (-0.15, -0.16), (-0.12, -0.22), (-0.07, -0.21), (-0.03, 0.04),
    (0.02, 0.15), (0.08, 0.21), (0.12, -0.06), (0.20, 0.07), (0.28, -0.12), (0.36, 0.02),
    (0.43, 0.19), (0.50, -0.09), (0.60, 0.10), (0.71, -0.07), (0.88, 0.03), (0.90, 0.14),
    (-1.80, -0.05), (-2.70, -0.12), (-3.00, -0.10), (-1.55, 0.04), (-1.00, 0.00), (-0.70, -0.18),
    (-2.95, 0.02), (-2.85, -0.08), (-2.75, 0.15), (-2.65, 0.00), (-2.55, -0.12), (-2.47, 0.08),
    (-2.38, 0.18), (-2.32, -0.05), (-2.27, 0.10), (-2.20, -0.14), (-2.13, 0.04), (-2.07, 0.16),
    (-2.00, -0.08), (-1.93, 0.12), (-1.88, -0.18), (-1.84, 0.02), (-1.76, 0.18), (-1.72, -0.10),
    (-1.68, 0.06), (-1.60, -0.03), (-1.52, 0.20), (-1.48, 0.00), (-1.42, -0.12), (-1.36, 0.10),
    (-1.32, -0.06), (-1.28, 0.20), (-1.24, 0.01), (-1.18, -0.10), (-1.12, 0.12), (-1.08, -0.20),
    (-1.04, 0.06), (-0.97, -0.06), (-0.90, 0.16), (-0.86, 0.00), (-0.78, 0.09), (-0.74, -0.10),
    (-0.66, 0.03), (-0.58, 0.14), (-0.52, -0.04), (-0.45, 0.07), (-0.38, -0.15), (-0.32, 0.02),
    (-0.22, 0.15), (-0.18, -0.08), (-0.10, 0.10), (0.00, -0.10), (0.05, 0.05), (0.16, -0.02),
    (0.25, 0.12), (0.32, -0.15),
]

# fitted lines: (intercept, slope)
add_fit_treated = (0.865, 0.332)
add_fit_control = (-0.875, 0.355)
dich_fit_treated = (0.9005, 0.1265)
dich_fit_control = (0.011, 0.022)
cutoff = 0.25

left_yticks = [-3, -2, -1, 0, 1, 2, 3]
right_yticks = [-0.5, 0.0, 0.5, 1.0, 1.5]
xticks = [-4, -2, 0, 2, 4]
titles = ["Additive response", "Dichotomized with noise"]

# ---------------- styling / layout constants ----------------
W, H = 1140, 539
PURPLE = "#7570B3"
FONT = "Liberation Sans, Arial, Helvetica, sans-serif"
XR = [-4.32, 4.32]
XR2 = [-4.32, 4.165]
YR1 = [-3.24, 3.25]
YR2 = [-0.579, 1.584]
L1, R1, L2, R2 = 94, 550, 692, 1140
TOP, BOT = 63, 448

def split(pts):
    return [p[0] for p in pts], [p[1] for p in pts]

def density_opacity(xs, ys, sx, sy, base, r=15.0, k=0.28, wmax=8):
    X = np.asarray(xs) * sx
    Y = np.asarray(ys) * sy
    d2 = (X[:, None] - X[None, :]) ** 2 + (Y[:, None] - Y[None, :]) ** 2
    cnt = (d2 < r * r).sum(1) - 1
    w = np.clip(k * cnt, 1, wmax)
    return (1 - (1 - base) ** w).tolist()

sx1 = (R1 - L1) / (XR[1] - XR[0]); sy1 = (BOT - TOP) / (YR1[1] - YR1[0])
sx2 = (R2 - L2) / (XR2[1] - XR2[0]); sy2 = (BOT - TOP) / (YR2[1] - YR2[0])

fig = go.Figure()

def pts_trace(pts, color, xa, ya, sx, sy, base, dens=True):
    xs, ys = split(pts)
    op = density_opacity(xs, ys, sx, sy, base) if dens else base
    fig.add_trace(go.Scatter(x=xs, y=ys, mode="markers", xaxis=xa, yaxis=ya,
                             marker=dict(size=7, color=color, opacity=op, line=dict(width=0)),
                             showlegend=False, hoverinfo="skip"))

def fit_trace(fit, color, xa, ya):
    a, b = fit
    xs = [XR[0], XR[1]]
    fig.add_trace(go.Scatter(x=xs, y=[a + b * v for v in xs], mode="lines", xaxis=xa, yaxis=ya,
                             line=dict(color=color, width=1), showlegend=False, hoverinfo="skip"))

# left panel
pts_trace(add_treated + add_treated_core + add_treated_mid, PURPLE, "x", "y", sx1, sy1, 0.24)
pts_trace(add_control + add_control_core + add_control_mid, "black", "x", "y", sx1, sy1, 0.21)
fit_trace(add_fit_treated, PURPLE, "x", "y")
fit_trace(add_fit_control, "black", "x", "y")
fig.add_trace(go.Scatter(x=XR, y=[cutoff, cutoff], mode="lines", xaxis="x", yaxis="y",
                         line=dict(color="black", width=1, dash="5px,4px"),
                         showlegend=False, hoverinfo="skip"))

# right panel
pts_trace(dich_control_low + dich_control_low_core, "black", "x2", "y2", sx2, sy2, 0.21)
pts_trace(dich_treated_high + dich_treated_high_core, PURPLE, "x2", "y2", sx2, sy2, 0.24)
pts_trace(dich_control_high, "black", "x2", "y2", sx2, sy2, 0.6, dens=False)
pts_trace(dich_treated_low, PURPLE, "x2", "y2", sx2, sy2, 0.68, dens=False)
fit_trace(dich_fit_treated, PURPLE, "x2", "y2")
fit_trace(dich_fit_control, "black", "x2", "y2")

ydom = [(H - BOT) / H, (H - TOP) / H]
tickfont = dict(family=FONT, size=18, color="black")
common = dict(showgrid=False, zeroline=False, showline=False, ticks="outside", ticklen=11,
              tickwidth=1, tickcolor="#444", tickfont=tickfont)

fig.update_layout(
    width=W, height=H, margin=dict(l=0, r=0, t=0, b=0),
    paper_bgcolor="white", plot_bgcolor="white",
    xaxis=dict(domain=[L1 / W, R1 / W], range=XR, tickvals=xticks, anchor="y",
               ticklabelstandoff=7, **common),
    yaxis=dict(domain=ydom, range=YR1, tickvals=left_yticks, anchor="x",
               ticklabelstandoff=8, **common),
    xaxis2=dict(domain=[L2 / W, 1.0], range=XR2, tickvals=xticks, anchor="y2",
                ticklabelstandoff=7, **common),
    yaxis2=dict(domain=ydom, range=YR2, tickvals=right_yticks, tickformat=".1f", anchor="x2",
                ticklabelstandoff=8, **common),
)

box = dict(color="#222", width=1)
fig.add_shape(type="rect", xref="x domain", yref="y domain", x0=0, x1=1, y0=0, y1=1, line=box)
for (x0, y0, x1, y1) in [(0, 0, 0, 1), (0, 1, 1.01, 1), (0, 0, 1.01, 0)]:
    fig.add_shape(type="line", xref="x2 domain", yref="y2 domain", x0=x0, y0=y0, x1=x1, y1=y1, line=box)

# titles and axis labels
tfont = dict(family=FONT, size=22, color="black")
lfont = dict(family=FONT, size=18, color="black")
ytitle = (H - 17.5) / H
ylab = (H - 530) / H
fig.add_annotation(text="<b>%s</b>" % titles[0], xref="x", yref="paper", x=0, y=ytitle,
                   showarrow=False, font=tfont, xanchor="center", yanchor="middle")
fig.add_annotation(text="<b>%s</b>" % titles[1], xref="x2", yref="paper", x=0, y=ytitle,
                   showarrow=False, font=tfont, xanchor="center", yanchor="middle")
fig.add_annotation(text="x", xref="x", yref="paper", x=0, y=ylab, showarrow=False,
                   font=lfont, xanchor="center", yanchor="middle")
fig.add_annotation(text="x", xref="x2", yref="paper", x=0, y=ylab, showarrow=False,
                   font=lfont, xanchor="center", yanchor="middle")
fig.add_annotation(text="y", xref="paper", yref="y", x=17 / W, y=(YR1[0] + YR1[1]) / 2,
                   showarrow=False, font=lfont, textangle=-90, xanchor="center", yanchor="middle")
fig.add_annotation(text="y", xref="paper", yref="y2", x=617 / W, y=(YR2[0] + YR2[1]) / 2,
                   showarrow=False, font=lfont, textangle=-90, xanchor="center", yanchor="middle")

fig.write_html("out.html")
